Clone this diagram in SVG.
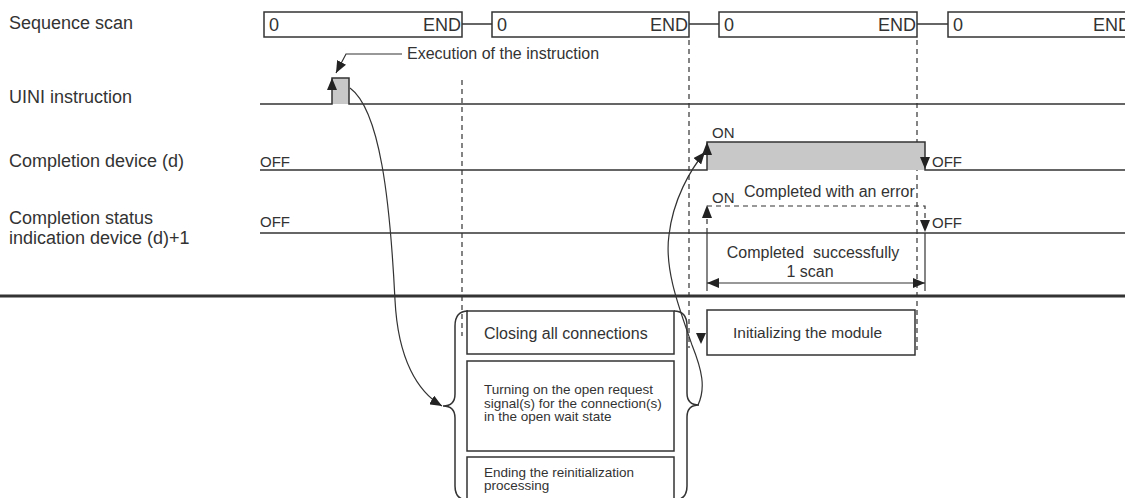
<svg xmlns="http://www.w3.org/2000/svg" width="1125" height="498" viewBox="0 0 1125 498">
<style>
text{font-family:"Liberation Sans",Arial,sans-serif;fill:#333}
.lbl{font-size:18px}
.scan{font-size:18px}
.s16{font-size:16px}
.s15{font-size:15px}
.s13{font-size:13.5px}
.ln{fill:none;stroke:#333;stroke-width:1.5}
.thin{fill:none;stroke:#333;stroke-width:1.2}
.dash{fill:none;stroke:#333;stroke-width:1.2;stroke-dasharray:5 4}
.box{fill:#fff;stroke:#333;stroke-width:1.5}
.gray{fill:#c8c8c8;stroke:none}
.ah{fill:#222;stroke:none}
</style>
<defs>
<marker id="arr" viewBox="0 0 12 10" refX="12" refY="5" markerWidth="12" markerHeight="10" markerUnits="userSpaceOnUse" orient="auto">
<path d="M0,0 L12,5 L0,10 Z" fill="#222"/>
</marker>
<marker id="arrS" viewBox="0 0 12 10" refX="0" refY="5" markerWidth="12" markerHeight="10" markerUnits="userSpaceOnUse" orient="auto">
<path d="M12,0 L0,5 L12,10 Z" fill="#222"/>
</marker>
</defs>

<g id="labels">
<text class="lbl" x="9" y="29">Sequence scan</text>
<text class="lbl" x="9" y="103">UINI instruction</text>
<text class="lbl" x="9" y="167">Completion device (d)</text>
<text class="lbl" x="9" y="224">Completion status</text>
<text class="lbl" x="9" y="244">indication device (d)+1</text>
</g>

<g id="sequence-scan">
<line class="ln" x1="462" y1="24" x2="492" y2="24"/>
<line class="ln" x1="689" y1="24" x2="719" y2="24"/>
<line class="ln" x1="917" y1="24" x2="948" y2="24"/>
<rect class="box" x="264" y="12" width="198" height="25"/>
<text class="scan" x="269" y="31">0</text>
<text class="scan" x="461" y="31" text-anchor="end">END</text>
<rect class="box" x="492" y="12" width="197" height="25"/>
<text class="scan" x="497" y="31">0</text>
<text class="scan" x="688" y="31" text-anchor="end">END</text>
<rect class="box" x="719" y="12" width="198" height="25"/>
<text class="scan" x="724" y="31">0</text>
<text class="scan" x="916" y="31" text-anchor="end">END</text>
<rect class="box" x="948" y="12" width="200" height="25"/>
<text class="scan" x="953" y="31">0</text>
<text class="scan" x="1131" y="31" text-anchor="end">END</text>
</g>

<g id="guides">
<line class="dash" x1="462" y1="80" x2="462" y2="336"/>
<line class="dash" x1="689" y1="40" x2="689" y2="348"/>
<line class="dash" x1="917" y1="40" x2="917" y2="350"/>
</g>

<g id="uini-signal">
<rect class="gray" x="332" y="78" width="17" height="26"/>
<path class="ln" d="M260,104 L332,104 L332,78 L349,78 L349,104 L1125,104"/>
<path class="ah" d="M332,78 L327,90 L337,90 Z"/>
</g>

<g id="execution-label">
<text class="s16" x="407" y="59">Execution of the instruction</text>
<path class="thin" d="M402,54 L346,54 L336,73" marker-end="url(#arr)"/>
</g>

<g id="completion-device">
<text class="s15" x="260" y="167">OFF</text>
<rect class="gray" x="707" y="142" width="218" height="28"/>
<path class="ln" d="M260,170 L707,170 L707,142 L925,142 L925,170 L1125,170"/>
<path class="ah" d="M707,142 L702,155 L712,155 Z"/>
<path class="ah" d="M925,169 L920,157 L930,157 Z"/>
<text class="s15" x="712" y="138">ON</text>
<text class="s15" x="932" y="167">OFF</text>
</g>

<g id="completion-status">
<text class="s15" x="260" y="227">OFF</text>
<line class="ln" x1="260" y1="233" x2="1125" y2="233"/>
<path class="dash" d="M707,233 L707,206 L925,206 L925,222"/>
<path class="ah" d="M707,205 L702,218 L712,218 Z"/>
<path class="ah" d="M925,232 L920,220 L930,220 Z"/>
<text class="s15" x="712" y="203">ON</text>
<text class="s16" x="744" y="197">Completed with an error</text>
<text class="s15" x="932" y="228">OFF</text>
</g>

<g id="one-scan">
<line class="thin" x1="707" y1="233" x2="707" y2="291"/>
<line class="thin" x1="925" y1="233" x2="925" y2="291"/>
<line class="thin" x1="707" y1="283" x2="925" y2="283" marker-start="url(#arrS)" marker-end="url(#arr)"/>
<text class="s16" x="813" y="258" text-anchor="middle" xml:space="preserve">Completed  successfully</text>
<text class="s16" x="810" y="277" text-anchor="middle">1 scan</text>
</g>

<line id="separator" x1="0" y1="296" x2="1125" y2="296" stroke="#333" stroke-width="3"/>

<g id="reinit-processing">
<rect class="box" x="467" y="311" width="207" height="43"/>
<text class="s16" x="484" y="339">Closing all connections</text>
<rect class="box" x="467" y="361" width="207" height="90"/>
<text class="s13" x="484" y="394">Turning on the open request</text>
<text class="s13" x="484" y="408">signal(s) for the connection(s)</text>
<text class="s13" x="484" y="421">in the open wait state</text>
<rect class="box" x="467" y="457" width="207" height="60"/>
<text class="s13" x="484" y="477">Ending the reinitialization</text>
<text class="s13" x="484" y="490">processing</text>
<path class="ln" d="M468,311 Q455,311 455,326 L455,394 Q455,406 443,406 Q455,406 455,418 L455,486 Q455,500 468,500"/>
<path class="ln" d="M674,311 Q687,311 687,326 L687,393 Q687,405 699,405 Q687,405 687,417 L687,486 Q687,500 674,500"/>
</g>

<g id="init-module">
<rect class="box" x="707" y="310" width="208" height="45"/>
<text class="s15" x="733" y="338" style="font-size:15.5px">Initializing the module</text>
<path class="ah" d="M701,344 L696,333 L706,333 Z"/>
</g>

<g id="connectors">
<path class="thin" d="M350,88 C380,110 390,200 395,300 C398,360 418,392 442,406" marker-end="url(#arr)"/>
<path class="thin" d="M698,405 C706,388 702,370 692,345 C680,310 664,270 669,235 C673,200 690,170 705,152" marker-end="url(#arr)"/>
</g>
</svg>
